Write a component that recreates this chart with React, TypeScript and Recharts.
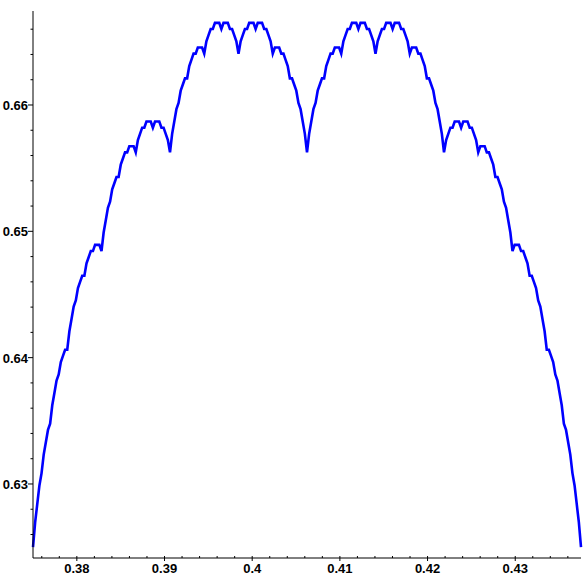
import React from "react";
import { LineChart, Line, XAxis, YAxis } from "recharts";

// curve samples, x from 0.375 to 0.4375 in steps of 1/4096, y in units of 1/4096
const X_START = 0.375;
const X_STEP = 1 / 4096;
const Y_UNIT = 1 / 4096;
const Y_UNITS = [
  2560, 2568, 2574, 2580, 2584, 2590, 2594, 2598, 2600, 2606, 2610, 2614, 2616, 2620, 2622, 2624,
  2624, 2630, 2634, 2638, 2640, 2644, 2646, 2648, 2648, 2652, 2654, 2656, 2656, 2658, 2658, 2658,
  2656, 2662, 2666, 2670, 2672, 2676, 2678, 2680, 2680, 2684, 2686, 2688, 2688, 2690, 2690, 2690,
  2688, 2692, 2694, 2696, 2696, 2698, 2698, 2698, 2696, 2698, 2698, 2698, 2696, 2696, 2694, 2692,
  2688, 2694, 2698, 2702, 2704, 2708, 2710, 2712, 2712, 2716, 2718, 2720, 2720, 2722, 2722, 2722,
  2720, 2724, 2726, 2728, 2728, 2730, 2730, 2730, 2728, 2730, 2730, 2730, 2728, 2728, 2726, 2724,
  2720, 2724, 2726, 2728, 2728, 2730, 2730, 2730, 2728, 2730, 2730, 2730, 2728, 2728, 2726, 2724,
  2720, 2722, 2722, 2722, 2720, 2720, 2718, 2716, 2712, 2712, 2710, 2708, 2704, 2702, 2698, 2694,
  2688,
  2694, 2698, 2702, 2704, 2708, 2710, 2712, 2712, 2716, 2718, 2720, 2720, 2722, 2722, 2722, 2720,
  2724, 2726, 2728, 2728, 2730, 2730, 2730, 2728, 2730, 2730, 2730, 2728, 2728, 2726, 2724, 2720,
  2724, 2726, 2728, 2728, 2730, 2730, 2730, 2728, 2730, 2730, 2730, 2728, 2728, 2726, 2724, 2720,
  2722, 2722, 2722, 2720, 2720, 2718, 2716, 2712, 2712, 2710, 2708, 2704, 2702, 2698, 2694, 2688,
  2692, 2694, 2696, 2696, 2698, 2698, 2698, 2696, 2698, 2698, 2698, 2696, 2696, 2694, 2692, 2688,
  2690, 2690, 2690, 2688, 2688, 2686, 2684, 2680, 2680, 2678, 2676, 2672, 2670, 2666, 2662, 2656,
  2658, 2658, 2658, 2656, 2656, 2654, 2652, 2648, 2648, 2646, 2644, 2640, 2638, 2634, 2630, 2624,
  2624, 2622, 2620, 2616, 2614, 2610, 2606, 2600, 2598, 2594, 2590, 2584, 2580, 2574, 2568, 2560,
];

const X_TICKS = [
  0.376, 0.378, 0.38, 0.382, 0.384, 0.386, 0.388, 0.39, 0.392, 0.394, 0.396, 0.398, 0.4,
  0.402, 0.404, 0.406, 0.408, 0.41, 0.412, 0.414, 0.416, 0.418, 0.42, 0.422, 0.424, 0.426,
  0.428, 0.43, 0.432, 0.434, 0.436,
];
const X_LABELS = [0.38, 0.39, 0.4, 0.41, 0.42, 0.43];
const Y_TICKS = [
  0.626, 0.628, 0.63, 0.632, 0.634, 0.636, 0.638, 0.64, 0.642, 0.644, 0.646, 0.648, 0.65,
  0.652, 0.654, 0.656, 0.658, 0.66, 0.662, 0.664, 0.666,
];
const Y_LABELS = [0.63, 0.64, 0.65, 0.66];

const data = Y_UNITS.map((v, i) => ({ x: X_START + i * X_STEP, y: v * Y_UNIT }));

const FONT = "'Liberation Sans', Arial, sans-serif";
const isLabel = (list: number[], v: number) => list.some((l) => Math.abs(l - v) < 1e-9);

function XTick({ x, y, payload }: any) {
  const major = isLabel(X_LABELS, payload.value);
  return (
    <g>
      <line x1={x} x2={x} y1={y - 2} y2={major ? y + 3 : y} stroke="#000" />
      {major && (
        <text x={x} y={y + 15} textAnchor="middle" fontFamily={FONT} fontWeight="bold" fontSize={13} fill="#000">
          {String(payload.value)}
        </text>
      )}
    </g>
  );
}

function YTick({ x, y, payload }: any) {
  const major = isLabel(Y_LABELS, payload.value);
  return (
    <g>
      <line x1={major ? x - 5 : x - 2.5} x2={x} y1={y} y2={y} stroke="#000" />
      {major && (
        <text x={x - 5} y={y + 5} textAnchor="end" fontFamily={FONT} fontWeight="bold" fontSize={13} fill="#000">
          {String(payload.value)}
        </text>
      )}
    </g>
  );
}

export default function App() {
  return (
    <div style={{ position: "absolute", left: 0, top: 0, background: "#fff" }}>
      <LineChart width={584} height={584} data={data} margin={{ top: 11, right: 3, left: 0, bottom: 0 }}>
        <XAxis
          dataKey="x"
          type="number"
          domain={[0.375, 0.4375]}
          ticks={X_TICKS}
          interval={0}
          height={26}
          tickSize={0}
          tickMargin={0}
          tickLine={false}
          axisLine={{ stroke: "#000" }}
          tick={<XTick />}
        />
        <YAxis
          type="number"
          domain={[0.62414, 0.66744]}
          ticks={Y_TICKS}
          interval={0}
          width={33}
          tickSize={0}
          tickMargin={0}
          tickLine={false}
          axisLine={{ stroke: "#000" }}
          tick={<YTick />}
          allowDataOverflow
        />
        <Line
          dataKey="y"
          type="linear"
          stroke="#0000ff"
          strokeWidth={2.6}
          dot={false}
          isAnimationActive={false}
        />
      </LineChart>
    </div>
  );
}
